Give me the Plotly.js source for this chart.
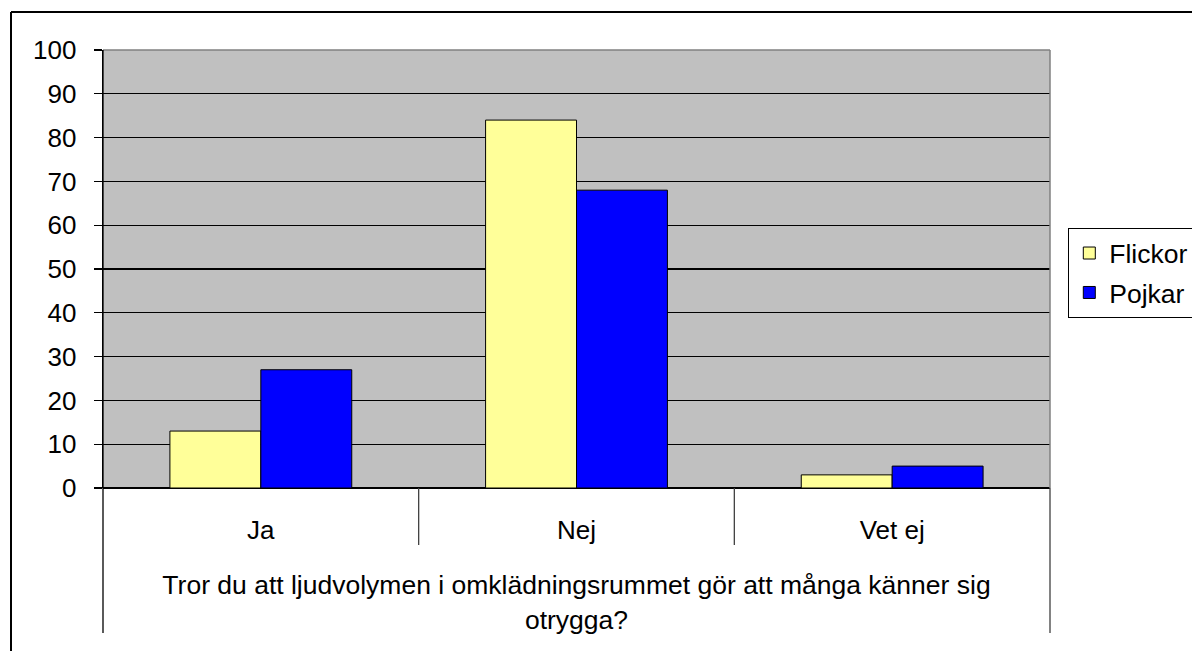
<!DOCTYPE html>
<html>
<head>
<meta charset="utf-8">
<script src="https://cdn.plot.ly/plotly-3.0.1.min.js"></script>
<style>html,body{margin:0;padding:0;background:#fff;}#chart{width:1192px;height:651px;}</style>
</head>
<body>
<div id="chart"></div>
<script>
var categories = ["Ja", "Nej", "Vet ej"];
var flickor = [13, 84, 3];
var pojkar = [27, 68, 5];
var seriesNames = ["Flickor", "Pojkar"];
var yTicks = [0, 10, 20, 30, 40, 50, 60, 70, 80, 90, 100];
var xTitle = "Tror du att ljudvolymen i omklädningsrummet gör att många känner sig<br>otrygga?";

var W = 1192, H = 651;
var L = 103, R = 1050, T = 50, B = 488;
function px(x) { return (x - L) / (R - L); }
function py(y) { return (B - y) / (B - T); }

var font = "Liberation Sans, Arial, sans-serif";

var traces = [
  { type: "bar", x: categories, y: flickor, name: seriesNames[0], legendgroup: "a",
    marker: { color: "#FFFF99", line: { color: "#000000", width: 1 } } },
  { type: "bar", x: categories, y: pojkar, name: seriesNames[1], legendgroup: "b",
    marker: { color: "#0000FF", line: { color: "#000000", width: 1 } } }
];

var lineStyle = { color: "#000000", width: 1.3 };
var shapes = [
  // outer frame (top and left)
  { type: "line", xref: "paper", yref: "paper", x0: px(11), x1: px(1192), y0: py(12), y1: py(12), line: { color: "#000", width: 2 } },
  { type: "line", xref: "paper", yref: "paper", x0: px(11), x1: px(11), y0: py(12), y1: py(651), line: { color: "#000", width: 2 } },
  // plot area border (grey)
  { type: "line", xref: "paper", yref: "paper", x0: 0, x1: 1, y0: 1, y1: 1, line: { color: "#808080", width: 1.5 } },
  { type: "line", xref: "paper", yref: "paper", x0: 1, x1: 1, y0: 0, y1: 1, line: { color: "#808080", width: 1.5 } },
  // category table lines
  { type: "line", xref: "paper", yref: "paper", x0: 0, x1: 0, y0: 1, y1: py(633), line: lineStyle },
  { type: "line", xref: "paper", yref: "paper", x0: 1, x1: 1, y0: 0, y1: py(633), line: { color: "#404040", width: 1.3 } },
  { type: "line", xref: "x", yref: "paper", x0: 0.5, x1: 0.5, y0: 0, y1: py(545), line: { color: "#404040", width: 1.3 } },
  { type: "line", xref: "x", yref: "paper", x0: 1.5, x1: 1.5, y0: 0, y1: py(545), line: { color: "#404040", width: 1.3 } }
];

var layout = {
  width: W, height: H,
  margin: { l: L, r: W - R, t: T, b: H - B, pad: 0 },
  paper_bgcolor: "#FFFFFF",
  plot_bgcolor: "#C0C0C0",
  font: { family: font, size: 26, color: "#000000" },
  barmode: "group",
  bargap: 0.424,
  bargroupgap: 0,
  showlegend: true,
  legend: {
    xref: "container", yref: "container",
    x: 1068 / W, y: 1 - 228 / H, xanchor: "left", yanchor: "top",
    bgcolor: "#FFFFFF", bordercolor: "#000000", borderwidth: 1.3,
    font: { family: font, size: 26.5, color: "#000" },
    traceorder: "grouped", tracegroupgap: 2,
    itemwidth: 30
  },
  xaxis: {
    type: "category",
    range: [-0.5, 2.5],
    showgrid: false, zeroline: false, showline: false,
    ticks: "",
    ticklabelstandoff: 24,
    tickfont: { family: font, size: 26, color: "#000" },
    title: { text: xTitle, font: { family: font, size: 26.5, color: "#000" }, standoff: 31 },
    fixedrange: true
  },
  yaxis: {
    range: [0, 100],
    tickvals: yTicks,
    ticktext: yTicks.map(String),
    showgrid: true, gridcolor: "#000000", gridwidth: 1.3,
    zeroline: true, zerolinecolor: "#000000", zerolinewidth: 1.3,
    showline: true, linecolor: "#000000", linewidth: 1.3,
    ticks: "outside", ticklen: 8, tickcolor: "#000000", tickwidth: 1.3,
    ticklabelstandoff: 12,
    tickfont: { family: font, size: 26, color: "#000" },
    fixedrange: true
  },
  shapes: shapes
};

Plotly.newPlot("chart", traces, layout, { displayModeBar: false, staticPlot: true });
</script>
</body>
</html>
